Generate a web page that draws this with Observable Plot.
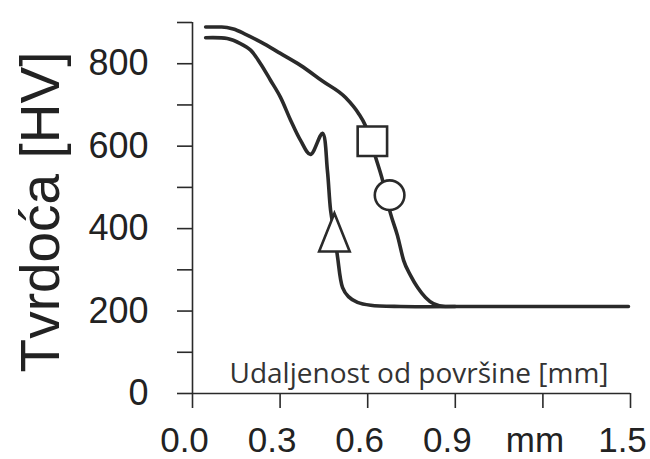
<!DOCTYPE html>
<html>
<head>
<meta charset="utf-8">
<script src="https://cdn.jsdelivr.net/npm/d3@7"></script>
<script src="https://cdn.jsdelivr.net/npm/@observablehq/plot@0.6"></script>
<style>
  html, body { margin: 0; padding: 0; background: #fff; }
  #chart svg { display: block; }
</style>
</head>
<body>
<div id="chart"></div>
<script>
// ---- data ----
const yTitle = "Tvrdoća [HV]";
const xNote = "Udaljenost od površine [mm]";

const xTicks = [0, 0.3, 0.6, 0.9, 1.2, 1.5];
const xTickLabels = ["0.0", "0.3", "0.6", "0.9", "mm", "1.5"];
const yTicks = [0, 100, 200, 300, 400, 500, 600, 700, 800, 900];
const yTickLabels = ["0", "", "200", "", "400", "", "600", "", "800", ""];

// upper curve (square / circle)
const upperX = [0.045, 0.10, 0.14, 0.18, 0.233, 0.301, 0.370, 0.445, 0.524, 0.568, 0.592, 0.627, 0.651, 0.678, 0.702, 0.723, 0.747, 0.771, 0.798, 0.825, 0.866, 1.0, 1.2, 1.493];
const upperY = [889, 889, 884, 872, 853, 825, 796, 758, 718, 680, 650, 573, 517, 437, 383, 323, 286, 257, 233, 218, 211, 211, 211, 211];

// lower curve (triangle)
const lowerX = [0.045, 0.119, 0.164, 0.199, 0.233, 0.267, 0.301, 0.336, 0.370, 0.404, 0.445, 0.462, 0.473, 0.486, 0.497, 0.514, 0.534, 0.565, 0.610, 0.712, 0.9];
const lowerY = [863, 861, 849, 833, 800, 760, 719, 663, 614, 580, 631, 541, 444, 390, 330, 257, 235, 221, 214, 211, 211];

// markers
const markerX = [0.616, 0.675, 0.486];
const markerY = [612, 481, 390];
const markerShape = ["square", "circle", "triangle"];

// ---- build ----
const upper = upperX.map((x, i) => ({x, y: upperY[i]}));
const lower = lowerX.map((x, i) => ({x, y: lowerY[i]}));
const markers = markerX.map((x, i) => ({x, y: markerY[i], shape: markerShape[i]}));
const xLab = new Map(xTicks.map((t, i) => [t, xTickLabels[i]]));
const yLab = new Map(yTicks.map((t, i) => [t, yTickLabels[i]]));

const tallTriangle = {
  draw(context, size) {
    const r = Math.sqrt(size / Math.PI);
    context.moveTo(0, -1.3 * r);
    context.lineTo(1.02 * r, 1.25 * r);
    context.lineTo(-1.02 * r, 1.25 * r);
    context.closePath();
  }
};

const ink = "#2a2a2a";
const tickFont = "'Liberation Sans', Arial, sans-serif";

const chart = Plot.plot({
  width: 650,
  height: 459,
  marginLeft: 192,
  marginRight: 20,
  marginTop: 22,
  marginBottom: 66,
  x: {domain: [0, 1.5]},
  y: {domain: [0, 900]},
  style: {background: "#fff", color: "#222"},
  marks: [
    Plot.ruleX([0], {y1: 0, y2: 900, stroke: ink, strokeWidth: 1.6}),
    Plot.ruleY([0], {x1: 0, x2: 1.5, stroke: ink, strokeWidth: 1.6}),
    Plot.axisY(yTicks, {
      tickSize: 15, tickPadding: 29, tickFormat: d => yLab.get(d),
      fontSize: 36, fontFamily: tickFont, stroke: ink, strokeWidth: 1.6,
      fill: "#222", label: null
    }),
    Plot.axisX(xTicks, {
      tickSize: 15, tickFormat: () => "",
      stroke: ink, strokeWidth: 1.6, label: null
    }),
    Plot.axisX(xTicks, {
      tickSize: 0, tickPadding: 34, tickFormat: d => xLab.get(d),
      fontSize: 35, fontFamily: tickFont, fill: "#222", label: null, dx: -8
    }),
    Plot.text([yTitle], {
      frameAnchor: "left", dx: -134, dy: 4, rotate: -90,
      lineAnchor: "bottom", textAnchor: "middle",
      fontSize: 55, fontFamily: tickFont, fill: "#222"
    }),
    Plot.text([xNote], {
      frameAnchor: "bottom-left", dx: 37, dy: -11,
      lineAnchor: "bottom", textAnchor: "start",
      fontSize: 28, fontFamily: "'Open Sans', 'Noto Sans', sans-serif", fill: "#333"
    }),
    Plot.line(upper, {x: "x", y: "y", stroke: ink, strokeWidth: 3.6, curve: "monotone-x"}),
    Plot.line(lower, {x: "x", y: "y", stroke: ink, strokeWidth: 3.6, curve: "catmull-rom"}),
    Plot.dot(markers.filter(d => d.shape === "square"), {x: "x", y: "y", symbol: "square", r: 16.6, fill: "#fff", stroke: ink, strokeWidth: 2.6}),
    Plot.dot(markers.filter(d => d.shape === "circle"), {x: "x", y: "y", symbol: "circle", r: 14.8, fill: "#fff", stroke: ink, strokeWidth: 2.6}),
    Plot.dot(markers.filter(d => d.shape === "triangle"), {x: "x", y: "y", symbol: tallTriangle, r: 15, fill: "#fff", stroke: ink, strokeWidth: 2.6})
  ]
});
document.getElementById("chart").appendChild(chart);
</script>
</body>
</html>
